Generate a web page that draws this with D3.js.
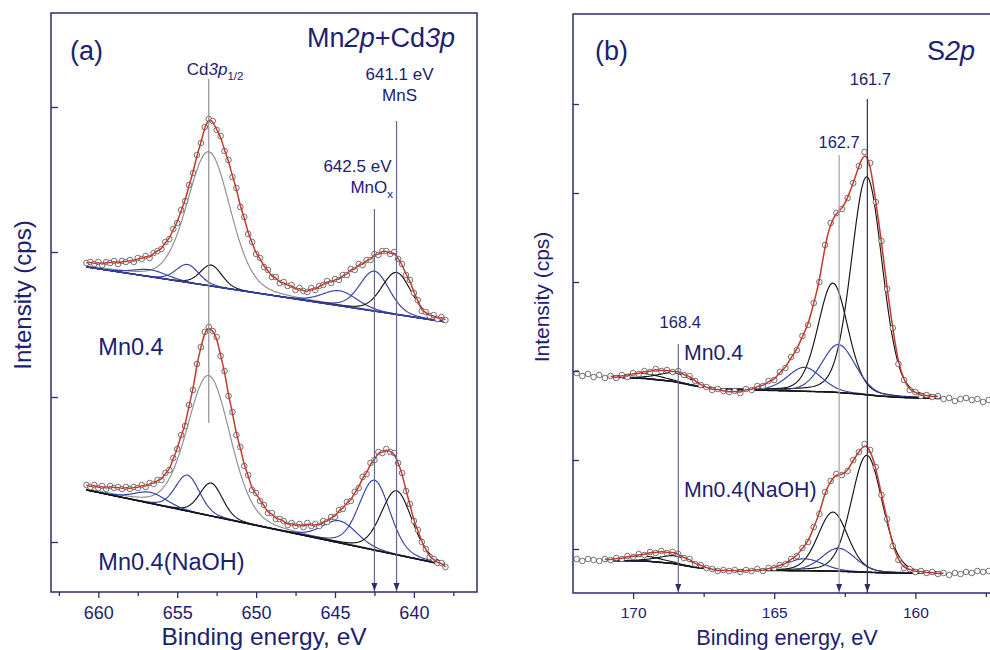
<!DOCTYPE html>
<html>
<head>
<meta charset="utf-8">
<script src="https://cdn.jsdelivr.net/npm/d3@7/dist/d3.min.js"></script>
<style>
  body { margin: 0; background: #fff; }
  svg { display: block; font-family: "Liberation Sans", Arial, sans-serif; }
</style>
</head>
<body>
<svg id="chart" width="990" height="650"></svg>
<script>
// ---------- panel (a): Mn2p + Cd3p, intensities in a.u. ----------
const mnStart = 660.75, mnStep = 0.25;
const mnTop = [329,330,328,330,327,330,329,331,328,331, 330,332,330,334,333,336,334,339,341,343,
    350,353,363,369,382,391,407,419,437,449, 465,473,471,462,456,441,432,415,404,385,
    375,358,350,338,334,325,322,315,315,309, 310,306,307,302,304,301,300,304,302,306,
    307,311,309,313,312,317,317,323,322,328, 327,332,332,338,337,341,341,338,340,333,
    328,317,312,299,292,281,280,276,277,273,275,272];
const mnBottom = [107,105,107,104,106,103,106,104,105,103, 105,103,105,104,107,105,109,108,112,112,
    119,122,134,143,157,166,187,202,228,245, 260,265,261,255,236,221,196,180,157,145,
    126,117,102,99,91,87,79,79,73,73, 71,67,69,66,68,65,69,66,68,66,
    71,70,75,75,82,83,90,91,100,104, 115,118,129,132,140,139,143,140,139,129,
    119,101,88,71,62,50,43,35,33,29,29,25];
const mnBgE = [660.75, 638.0];
const mnTopBg = [325, 270];
const mnBottomBg = [102, 27];
// fitted components
const mnCenter = [653.0, 652.85, 654.35, 656.7, 644.7, 642.5, 641.1];
const mnKind = ["grey", "black", "blue", "blue", "blue", "blue", "black"];
const mnTopHeight = [134, 21, 18, 7, 15, 40, 42];
const mnTopFwhm = [3.2, 1.6, 1.7, 2.5, 2.6, 2.2, 2.2];
const mnBottomHeight = [140, 33, 36, 11, 22, 70, 64];
const mnBottomFwhm = [3.2, 1.7, 1.8, 2.4, 2.6, 2.3, 2.3];

// ---------- panel (b): S2p ----------
const sStart = 172.0, sStep = 0.2;
const sTop = [220,217,219,216,218,215,217,215,218,216, 220,219,222,221,224,222,223,221,222,218,
    217,212,208,206,203,204,202,201,202,200, 204,203,207,207,212,213,221,225,236,243,
    257,268,290,311,348,370,380,384,395,410, 427,441,430,391,352,304,265,229,213,203,
    201,197,198,196,197,194,195,192,194,195,193,194,191,193];
const sBottom = [34,32,34,33,32,34,33,35,34,37, 36,39,38,41,40,42,40,41,39,35,
    34,29,28,25,24,22,23,22,23,21, 23,22,24,22,25,25,28,29,34,37,
    45,51,66,79,101,112,119,118,122,133, 141,149,143,126,98,74,47,33,25,24,
    21,22,20,21,19,20,18,20,19,21,20,22,21,22];
const sTopBgE = [170.9, 169.6, 168.6, 167.8, 167.0, 165.0, 163.0, 162.0, 161.3, 160.5, 159.1];
const sTopBg = [216, 214.5, 211.5, 207, 203.5, 202.5, 201, 199, 197, 195.5, 194.5];
const sBottomBgE = [171.0, 169.6, 168.6, 167.8, 167.0, 165.0, 163.0, 162.0, 161.0, 159.0];
const sBottomBg = [32.5, 32, 29.5, 25.5, 23, 22.5, 22, 21, 20, 19.5];
const sCenter = [169.6, 168.5, 161.72, 162.92, 162.72, 163.93];
const sKind = ["black", "black", "black", "black", "blue", "blue"];
const sTopHeight = [5, 9, 218, 109, 48, 24];
const sTopFwhm = [1.6, 1.4, 1.3, 1.25, 1.4, 1.4];
const sBottomHeight = [5, 8, 117, 59, 23, 12];
const sBottomFwhm = [1.6, 1.4, 1.3, 1.25, 1.4, 1.5];

// reference lines
const mnMarkE = [653.0, 642.5, 641.1];
const mnMarkTop = [513, 383, 471];
const mnMarkBottom = [169, 0, 0];
const mnMarkKind = ["grey", "slate", "slate"];
const sMarkE = [168.4, 162.7, 161.7];
const sMarkTop = [249, 438, 494];
const sMarkBottom = [0, 0, 0];
const sMarkKind = ["slate", "light", "navy"];

const NAVY = "#2a2e6e", TEXT = "#1c2170";
const COLOR = {blue: "#3441a3", black: "#151515", grey: "#8e8e8e", red: "#c43a2e",
    slate: "#646a90", light: "#a3a3a8", navy: "#2a2e70"};

const ETA = 0.2;
function pseudoVoigt(e, c, h, w) {
    const t = (e - c) / w;
    return h * ((1 - ETA) * Math.exp(-4 * Math.LN2 * t * t) + ETA / (1 + 4 * t * t));
}

const svg = d3.select("#chart");

const panels = [
    {
        x: d3.scaleLinear().domain([663, 636]).range([51, 477]),
        y: d3.scaleLinear().domain([0, 579]).range([592, 13]),
        closedRight: true,
        xMajor: [660, 655, 650, 645, 640],
        xMinor: [662.5, 657.5, 652.5, 647.5, 642.5, 637.5],
        yTicks: [50, 195, 340, 485],
        tickFont: 18,
        yTickLen: 7,
        spectra: [
            {start: mnStart, step: mnStep, values: mnTop, fit: [660.75, 638.0], bgE: mnBgE, bgH: mnTopBg,
                bgKind: "blue", centers: mnCenter, kinds: mnKind, heights: mnTopHeight, fwhm: mnTopFwhm},
            {start: mnStart, step: mnStep, values: mnBottom, fit: [660.75, 638.0], bgE: mnBgE, bgH: mnBottomBg,
                bgKind: "black", centers: mnCenter, kinds: mnKind, heights: mnBottomHeight, fwhm: mnBottomFwhm}
        ],
        marks: {e: mnMarkE, top: mnMarkTop, bottom: mnMarkBottom, kind: mnMarkKind}
    },
    {
        x: d3.scaleLinear().domain([172.13, 157.0]).range([573, 1000]),
        y: d3.scaleLinear().domain([0, 579]).range([593, 14]),
        closedRight: false,
        xMajor: [170, 165, 160],
        xMinor: [167.5, 162.5, 157.5],
        yTicks: [44, 133, 222, 311, 400, 489],
        tickFont: 15.5,
        yTickLen: 6,
        spectra: [
            {start: sStart, step: sStep, values: sTop, fit: [170.9, 159.1], bgE: sTopBgE, bgH: sTopBg,
                bgKind: "black", centers: sCenter, kinds: sKind, heights: sTopHeight, fwhm: sTopFwhm},
            {start: sStart, step: sStep, values: sBottom, fit: [171.0, 159.0], bgE: sBottomBgE, bgH: sBottomBg,
                bgKind: "black", centers: sCenter, kinds: sKind, heights: sBottomHeight, fwhm: sBottomFwhm}
        ],
        marks: {e: sMarkE, top: sMarkTop, bottom: sMarkBottom, kind: sMarkKind}
    }
];

function drawPanel(p) {
    const g = svg.append("g");
    const [x0, x1] = p.x.range(), [yb, yt] = p.y.range();

    p.spectra.forEach(s => {
        const bg = d3.scaleLinear().domain(s.bgE).range(s.bgH).clamp(true);
        const grid = d3.range(s.fit[0], s.fit[1] - 1e-6, -0.04);
        const line = d3.line().x(d => p.x(d[0])).y(d => p.y(d[1]));

        // components sit on the background
        s.centers.forEach((c, i) => {
            const pts = grid.map(e => [e, bg(e) + pseudoVoigt(e, c, s.heights[i], s.fwhm[i])]);
            g.append("path").attr("d", line(pts)).attr("fill", "none")
                .attr("stroke", COLOR[s.kinds[i]]).attr("stroke-width", 1.15);
        });
        g.append("path").attr("d", line(grid.map(e => [e, bg(e)]))).attr("fill", "none")
            .attr("stroke", COLOR[s.bgKind]).attr("stroke-width", 1.5);

        // measured points
        const data = s.values.map((v, i) => [s.start - i * s.step, v]);
        g.selectAll(null).data(data).join("circle")
            .attr("cx", d => p.x(d[0])).attr("cy", d => p.y(d[1])).attr("r", 2.8)
            .attr("fill", "#fff").attr("stroke", "#505050").attr("stroke-width", 0.8);

        // envelope
        const fitData = data.filter(d => d[0] <= s.fit[0] + 1e-6 && d[0] >= s.fit[1] - 1e-6);
        g.append("path").attr("d", line.curve(d3.curveBasis)(fitData)).attr("fill", "none")
            .attr("stroke", COLOR.red).attr("stroke-width", 1.5);
    });

    // reference lines with arrows
    p.marks.e.forEach((e, i) => {
        const xx = p.x(e), ytop = p.y(p.marks.top[i]), ybot = p.y(p.marks.bottom[i]);
        const col = COLOR[p.marks.kind[i]];
        g.append("line").attr("x1", xx).attr("x2", xx).attr("y1", ytop).attr("y2", ybot)
            .attr("stroke", col).attr("stroke-width", 1.2);
        if (p.marks.bottom[i] === 0) {
            g.append("path").attr("d", `M${xx - 3},${ybot - 9}L${xx + 3},${ybot - 9}L${xx},${ybot - 1}Z`)
                .attr("fill", NAVY);
        }
    });

    // axes
    const minor = g.append("g").attr("transform", `translate(0,${yb})`)
        .call(d3.axisBottom(p.x).tickValues(p.xMinor).tickSize(4).tickSizeOuter(0).tickFormat(""));
    const major = g.append("g").attr("transform", `translate(0,${yb})`)
        .call(d3.axisBottom(p.x).tickValues(p.xMajor).tickSize(6).tickSizeOuter(0).tickPadding(8).tickFormat(d3.format("d")));
    const left = g.append("g").attr("transform", `translate(${x0},0)`)
        .call(d3.axisRight(p.y).tickValues(p.yTicks).tickSize(p.yTickLen).tickSizeOuter(0).tickFormat(""));
    [minor, major, left].forEach(a => {
        a.select(".domain").remove();
        a.selectAll("line").attr("stroke", NAVY).attr("stroke-width", 1.3);
    });
    major.selectAll("text").attr("fill", TEXT).attr("font-size", p.tickFont)
        .attr("font-family", "Liberation Sans, Arial, sans-serif");

    // frame
    const frame = p.closedRight
        ? `M${x0},${yb}V${yt}H${x1}V${yb}Z`
        : `M${x1},${yt}H${x0}V${yb}H${x1}`;
    g.append("path").attr("d", frame).attr("fill", "none").attr("stroke", NAVY).attr("stroke-width", 1.5);
}

panels.forEach(drawPanel);

// ---------- text ----------
function label(x, y, size, parts, anchor) {
    const t = svg.append("text").attr("x", x).attr("y", y).attr("font-size", size)
        .attr("fill", TEXT).attr("text-anchor", anchor || "start");
    parts.forEach(pt => {
        const s = t.append("tspan").text(pt.t);
        if (pt.i) s.attr("font-style", "italic");
        if (pt.sub) s.attr("font-size", size * 0.68).attr("dy", size * 0.28);
    });
    return t;
}

const pa = panels[0], pb = panels[1];

label(70, 60, 27, [{t: "(a)"}]);
label(455, 47, 27, [{t: "Mn"}, {t: "2p", i: true}, {t: "+Cd"}, {t: "3p", i: true}], "end");
label(pa.x(653.0) - 22, 75, 17, [{t: "Cd"}, {t: "3p", i: true}, {t: "1/2", sub: true}]);
label(pa.x(641.1) + 3, 80, 17, [{t: "641.1 eV"}], "middle");
label(pa.x(641.1) + 3, 101, 17, [{t: "MnS"}], "middle");
label(pa.x(642.5) - 17, 172, 17, [{t: "642.5 eV"}], "middle");
label(pa.x(642.5) - 24, 193, 17, [{t: "MnO"}, {t: "x", sub: true}]);
label(pa.x(660), 355, 23.5, [{t: "Mn0.4"}]);
label(pa.x(660), 570, 23.5, [{t: "Mn0.4(NaOH)"}]);
label(264, 645, 24.5, [{t: "Binding energy, eV"}], "middle");
label(0, 0, 24, [{t: "Intensity (cps)"}], "middle").attr("transform", "translate(31,295) rotate(-90)");

label(595, 60, 27, [{t: "(b)"}]);
label(927, 60, 27, [{t: "S"}, {t: "2p", i: true}]);
label(pb.x(161.7) + 3, 85, 16.5, [{t: "161.7"}], "middle");
label(pb.x(162.7), 148, 16.5, [{t: "162.7"}], "middle");
label(pb.x(168.4) + 2, 328, 16.5, [{t: "168.4"}], "middle");
label(684, 360, 21.3, [{t: "Mn0.4"}]);
label(684, 497, 21.3, [{t: "Mn0.4(NaOH)"}]);
label(787, 645, 21.7, [{t: "Binding energy, eV"}], "middle");
label(0, 0, 21, [{t: "Intensity (cps)"}], "middle").attr("transform", "translate(549,297) rotate(-90)");
</script>
</body>
</html>
